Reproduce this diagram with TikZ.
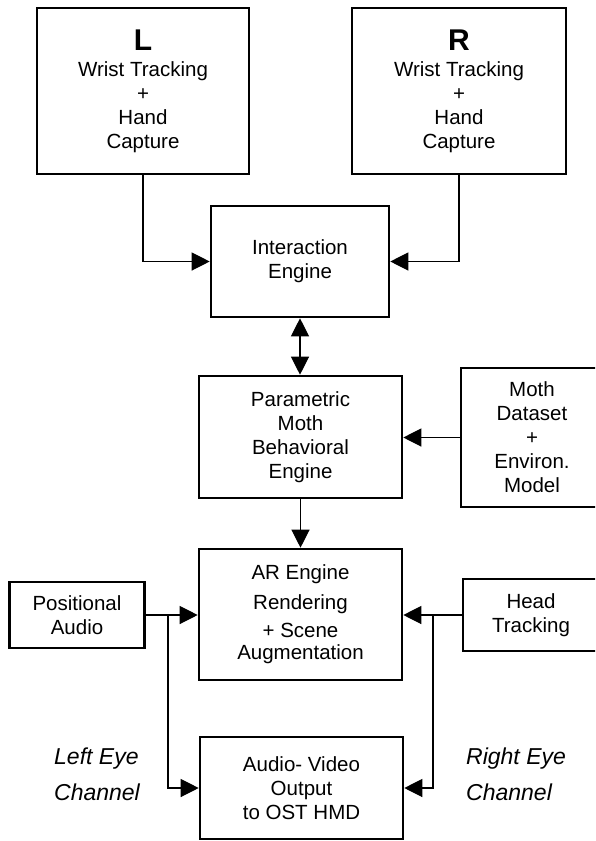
\documentclass[tikz,border=0pt]{standalone}
\usepackage{fontspec}
\setmainfont{Liberation Sans}
\usetikzlibrary{arrows.meta}
\begin{document}
\begin{tikzpicture}[x=1pt,y=-1pt,
  blk/.style={draw, line width=2.6pt, inner sep=0pt, align=center,
              font=\fontsize{20.5}{24}\selectfont},
  lbl/.style={inner sep=0pt, align=left, anchor=west,
              font=\fontsize{23}{27}\selectfont\itshape},
  arr/.style={line width=1.2pt, -{Triangle[length=18pt,width=18pt]}},
  darr/.style={line width=1.2pt, {Triangle[length=18pt,width=18pt]}-{Triangle[length=18pt,width=18pt]}},
]
\path[use as bounding box, clip] (0,0) rectangle (595,841);

% hand tracking inputs
\node[blk, minimum width=212pt, minimum height=166pt] (L) at (143,91)
  {{\fontsize{30}{30}\selectfont\bfseries L}\\[2pt]Wrist Tracking\\+\\Hand\\Capture};
\node[blk, minimum width=214pt, minimum height=166pt] (R) at (459,91)
  {{\fontsize{30}{30}\selectfont\bfseries R}\\[2pt]Wrist Tracking\\+\\Hand\\Capture};

% engines
\node[blk, minimum width=178pt, minimum height=111pt] (IE) at (300,261.5) {Interaction\\Engine};
\node[blk, minimum width=203pt, minimum height=122pt] (PM) at (300.5,437) {Parametric\\Moth\\Behavioral\\Engine};
\node[blk, minimum width=142pt, minimum height=139pt] (MD) at (532,437.5) {Moth\\Dataset\\+\\Environ.\\Model};
\node[blk, minimum width=203pt, minimum height=131pt] (AR) at (300.5,614.5)
  {AR Engine\\[6pt]Rendering\\[4pt]+ Scene\\[-2pt]Augmentation};
\node[blk, minimum width=134.5pt, minimum height=66pt] (PA) at (77,615) {Positional\\Audio};
\node[blk, minimum width=136pt, minimum height=72pt] (HT) at (531,615) {Head\\Tracking};
\node[blk, minimum width=203pt, minimum height=102pt] (AV) at (301.5,788) {Audio- Video\\Output\\to OST HMD};

% channel labels
\node[lbl] (LE) at (54,774) {Left Eye\\[9pt]Channel};
\node[lbl] (RE) at (466,774) {Right Eye\\[9pt]Channel};

% connectors
\draw[arr] (L.south) |- (IE.west);
\draw[arr] (R.south) |- (IE.east);
\draw[darr] (IE.south) -- (IE.south |- PM.north);
\draw[arr] (MD.west) -- (MD.west -| PM.east);
\draw[arr] (PM.south) -- (PM.south |- AR.north);
\draw[arr] (PA.east) -- (PA.east -| AR.west);
\draw[arr] (HT.west) -- (HT.west -| AR.east);
\coordinate (lb) at (168,615);
\coordinate (rb) at (433,615);
\draw[arr] (lb) |- (AV.west);
\draw[arr] (rb) |- (AV.east);
\end{tikzpicture}
\end{document}
